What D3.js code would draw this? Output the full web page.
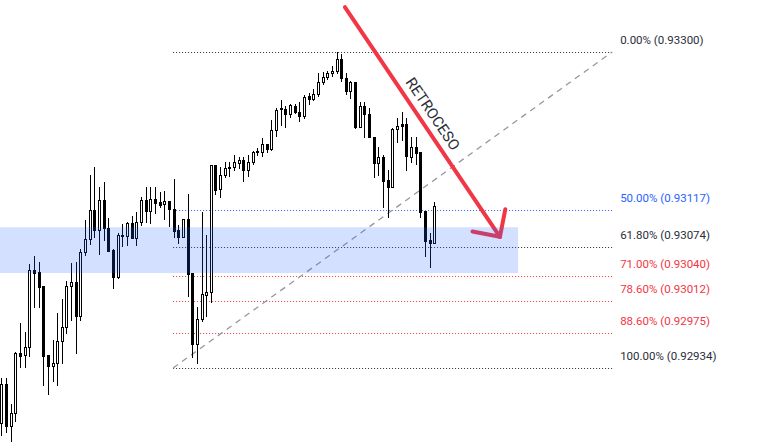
<!DOCTYPE html>
<html>
<head>
<meta charset="utf-8">
<script src="https://cdn.jsdelivr.net/npm/d3@7"></script>
<style>
html,body{margin:0;padding:0;background:#fff;}
svg{display:block;}
</style>
</head>
<body>
<div id="chart"></div>
<script>
// ---- DATA ----
const opens = [0.92870,0.92915,0.92867,0.92882,0.92951,0.92949,0.92958,0.93047,0.93045,0.93029,
0.92949,0.92936,0.92940,0.92965,0.92981,0.93029,0.93034,0.92994,0.93068,0.93083,
0.93117,0.93094,0.93129,0.93096,0.93071,0.93039,0.93087,0.93087,0.93102,0.93085,
0.93103,0.93129,0.93116,0.93130,0.93126,0.93124,0.93127,0.93118,0.93094,0.93086,
0.93107,0.93044,0.92962,0.92991,0.93019,0.93022,0.93169,0.93141,0.93158,0.93167,
0.93167,0.93171,0.93175,0.93163,0.93173,0.93184,0.93184,0.93193,0.93188,0.93210,
0.93234,0.93234,0.93228,0.93237,0.93230,0.93226,0.93249,0.93246,0.93251,0.93265,
0.93271,0.93276,0.93278,0.93292,0.93270,0.93255,0.93265,0.93213,0.93237,0.93228,
0.93202,0.93171,0.93178,0.93152,0.93144,0.93211,0.93217,0.93217,0.93178,0.93190,
0.93184,0.93116,0.93082,0.93079];
const highs = [0.92922,0.92922,0.92892,0.92953,0.92986,0.92976,0.93054,0.93064,0.93057,0.93029,
0.92949,0.92966,0.92998,0.93014,0.93035,0.93056,0.93057,0.93072,0.93105,0.93158,
0.93167,0.93144,0.93149,0.93108,0.93072,0.93090,0.93101,0.93103,0.93110,0.93115,
0.93132,0.93144,0.93144,0.93144,0.93138,0.93139,0.93127,0.93153,0.93100,0.93107,
0.93136,0.93044,0.93005,0.93115,0.93088,0.93169,0.93169,0.93167,0.93173,0.93173,
0.93181,0.93178,0.93178,0.93181,0.93185,0.93189,0.93200,0.93193,0.93221,0.93235,
0.93244,0.93237,0.93240,0.93240,0.93242,0.93250,0.93252,0.93257,0.93276,0.93277,
0.93278,0.93284,0.93300,0.93298,0.93276,0.93266,0.93265,0.93242,0.93242,0.93235,
0.93202,0.93190,0.93181,0.93163,0.93212,0.93224,0.93230,0.93224,0.93202,0.93202,
0.93184,0.93116,0.93090,0.93126];
const lows = [0.92856,0.92860,0.92849,0.92873,0.92935,0.92935,0.92948,0.93005,0.93005,0.92914,
0.92904,0.92919,0.92914,0.92940,0.92975,0.92990,0.92951,0.92990,0.93065,0.93078,
0.93086,0.93066,0.93082,0.93069,0.93027,0.93038,0.93075,0.93076,0.93085,0.93076,
0.93100,0.93103,0.93102,0.93114,0.93120,0.93107,0.93098,0.93086,0.93079,0.93086,
0.93017,0.92947,0.92940,0.92988,0.92994,0.93010,0.93136,0.93132,0.93155,0.93156,
0.93163,0.93166,0.93151,0.93156,0.93170,0.93181,0.93180,0.93184,0.93186,0.93203,
0.93215,0.93213,0.93225,0.93229,0.93220,0.93224,0.93240,0.93244,0.93249,0.93263,
0.93269,0.93272,0.93276,0.93266,0.93251,0.93247,0.93212,0.93213,0.93202,0.93202,
0.93155,0.93158,0.93120,0.93109,0.93144,0.93196,0.93198,0.93163,0.93173,0.93170,
0.93109,0.93064,0.93051,0.93079];
const closes = [0.92915,0.92867,0.92882,0.92951,0.92948,0.92958,0.93047,0.93044,0.93028,0.92948,
0.92936,0.92940,0.92965,0.92981,0.93029,0.93034,0.92994,0.93068,0.93083,0.93117,
0.93094,0.93129,0.93096,0.93069,0.93039,0.93088,0.93088,0.93102,0.93085,0.93103,
0.93129,0.93116,0.93130,0.93125,0.93123,0.93127,0.93118,0.93093,0.93086,0.93107,
0.93043,0.92962,0.92991,0.93020,0.93022,0.93169,0.93140,0.93158,0.93166,0.93166,
0.93173,0.93175,0.93163,0.93173,0.93184,0.93185,0.93193,0.93188,0.93210,0.93233,
0.93235,0.93228,0.93239,0.93230,0.93226,0.93248,0.93246,0.93251,0.93265,0.93271,
0.93276,0.93278,0.93292,0.93270,0.93255,0.93265,0.93213,0.93237,0.93228,0.93202,
0.93171,0.93178,0.93151,0.93144,0.93211,0.93214,0.93214,0.93180,0.93190,0.93183,
0.93115,0.93081,0.93079,0.93122];

const fibRatios = [0, 0.5, 0.618, 0.71, 0.786, 0.886, 1];
const fibPrices = [0.93300, 0.93117, 0.93074, 0.93040, 0.93012, 0.92975, 0.92934];
const fibColors = ["#2a2e39", "#2962ff", "#2a2e39", "#f23645", "#f23645", "#f23645", "#2a2e39"];

// drawing anchors (bar index / price)
const fibBars = [36.9, 131.2];            // fib tool from bar -> to bar
const zoneBars = [-0.28, 111];            // highlighted zone
const zonePrices = [0.93097, 0.93044];
const arrowFrom = {bar: 73.8, price: 0.93352};
const arrowTo = {bar: 107.1, price: 0.93086};
const arrowLabel = "RETROCESO";

// ---- CHART ----
const W = 764, H = 448;
const svg = d3.select("#chart").append("svg").attr("width", W).attr("height", H);

const x = d3.scaleLinear().domain([0, opens.length - 1]).range([1.3, 434.3]);
const y = d3.scaleLinear().domain([fibPrices[6], fibPrices[0]]).range([368, 52]);

const candles = opens.map((o, i) => ({i, o, h: highs[i], l: lows[i], c: closes[i]}));

// fib levels
const fx0 = x(fibBars[0]), fx1 = x(fibBars[1]);
const fib = svg.append("g");
fib.selectAll("line").data(fibPrices).join("line")
  .attr("x1", fx0).attr("x2", fx1)
  .attr("y1", d => Math.round(y(d)) + 0.5).attr("y2", d => Math.round(y(d)) + 0.5)
  .attr("stroke", (d, i) => fibColors[i])
  .attr("stroke-width", 1)
  .attr("stroke-dasharray", "1,2");

// trend (diagonal) line
svg.append("line")
  .attr("x1", fx0).attr("y1", y(fibPrices[6]))
  .attr("x2", fx1).attr("y2", y(fibPrices[0]))
  .attr("stroke", "#9598a1").attr("stroke-width", 1.3)
  .attr("stroke-dasharray", "6,5");

// candles
const cg = svg.append("g");
candles.forEach(d => {
  const left = Math.round(x(d.i)) - 1;
  const up = d.c >= d.o;
  const yt = Math.round(y(Math.max(d.o, d.c)));
  const yb = Math.round(y(Math.min(d.o, d.c)));
  cg.append("line")
    .attr("x1", left + 1.5).attr("x2", left + 1.5)
    .attr("y1", Math.round(y(d.h))).attr("y2", Math.round(y(d.l)) + 1)
    .attr("stroke", "#000").attr("stroke-width", 1);
  cg.append("rect")
    .attr("x", left + 0.5).attr("width", 2)
    .attr("y", yt + 0.5).attr("height", Math.max(yb - yt, 0.01))
    .attr("fill", up ? "#fff" : "#000")
    .attr("stroke", "#000").attr("stroke-width", 1);
});

// arrow
const ax0 = x(arrowFrom.bar), ay0 = y(arrowFrom.price);
const ax1 = x(arrowTo.bar), ay1 = y(arrowTo.price);
const ang = Math.atan2(ay1 - ay0, ax1 - ax0);
const headLen = 28, headAng = Math.PI / 4;
const ag = svg.append("g").attr("stroke", "#f23645").attr("stroke-width", 4)
  .attr("stroke-linecap", "round").attr("fill", "none");
ag.append("line").attr("x1", ax0).attr("y1", ay0).attr("x2", ax1).attr("y2", ay1);
[-1, 1].forEach(s => {
  ag.append("line").attr("x1", ax1).attr("y1", ay1)
    .attr("x2", ax1 - headLen * Math.cos(ang + s * headAng))
    .attr("y2", ay1 - headLen * Math.sin(ang + s * headAng));
});

// zone rectangle
svg.append("rect")
  .attr("x", x(zoneBars[0])).attr("width", x(zoneBars[1]) - x(zoneBars[0]))
  .attr("y", y(zonePrices[0])).attr("height", y(zonePrices[1]) - y(zonePrices[0]))
  .attr("fill", "rgba(41,98,255,0.2)");

// arrow label
const len = Math.hypot(ax1 - ax0, ay1 - ay0);
const tx = ax0 + (ax1 - ax0) * 0.497 + 13 * Math.sin(ang);
const ty = ay0 + (ay1 - ay0) * 0.497 - 13 * Math.cos(ang);
svg.append("text")
  .attr("transform", `translate(${tx},${ty}) rotate(${ang * 180 / Math.PI})`)
  .attr("text-anchor", "middle").attr("dominant-baseline", "central")
  .attr("font-family", "Roboto, 'Noto Sans', sans-serif").attr("font-size", 15)
  .attr("fill", "#2a2e39")
  .text(arrowLabel);

// fib labels
svg.append("g").selectAll("text").data(fibPrices).join("text")
  .attr("x", fx1 + 8)
  .attr("y", d => y(d) - 12)
  .attr("dominant-baseline", "central")
  .attr("font-family", "Roboto, 'Noto Sans', sans-serif").attr("font-size", 11.5)
  .attr("fill", (d, i) => fibColors[i])
  .text((d, i) => `${(fibRatios[i] * 100).toFixed(2)}% (${d.toFixed(5)})`);
</script>
</body>
</html>
